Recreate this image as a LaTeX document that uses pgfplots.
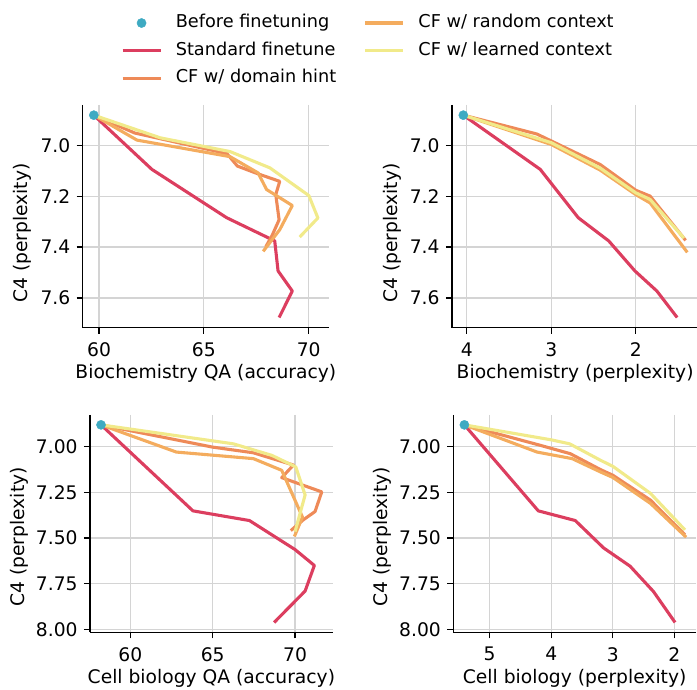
\documentclass[border=0pt]{standalone}
\usepackage{fontspec}
\setmainfont{DejaVu Sans}
\usepackage{pgfplots}
\pgfplotsset{compat=1.18}
\definecolor{cred}{RGB}{220,62,95}
\definecolor{corange}{RGB}{238,138,88}
\definecolor{clight}{RGB}{244,172,94}
\definecolor{cyellow}{RGB}{241,234,138}
\definecolor{cteal}{RGB}{62,170,194}
\definecolor{gridgray}{RGB}{212,212,212}
\pgfplotsset{
  panel/.style={
    scale only axis, anchor=south west,
    axis x line*=bottom, axis y line*=left,
    y dir=reverse,
    tick align=outside, major tick length=6pt,
    xmajorgrids, ymajorgrids,
    grid style={line width=1.2pt, gridgray},
    axis line style={line width=1.2pt, black, -},
    every tick/.style={line width=1.2pt, black},
    /pgf/number format/assume math mode=true,
    xticklabel style={yshift=-2.5pt},
    xlabel style={anchor=center},
    ylabel style={anchor=center},
  },
  ln/.style={line width=3.1pt, line join=round, no marks},
  dot/.style={only marks, mark=*, mark size=4.6pt, draw=cteal, fill=cteal, mark options={draw=cteal, fill=cteal}},
  lineleg/.style={legend image code/.code={\draw[##1] (0pt,0pt) -- (38pt,0pt);}},
  dotleg/.style={legend image code/.code={\draw[##1] plot coordinates {(19pt,0pt)};}},
}
\begin{document}
\fontsize{18.7pt}{22pt}\selectfont
\begin{tikzpicture}
% ---------------- Panel 1 ----------------
\begin{axis}[panel, at={(82.7pt,362.3pt)}, width=246.3pt, height=222.7pt,
  xmin=59.22, xmax=70.97, ymin=6.842, ymax=7.717,
  xtick={60,65,70}, ytick={7.0,7.2,7.4,7.6},
  yticklabel style={/pgf/number format/.cd, fixed, fixed zerofill, precision=1},
  xlabel={Biochemistry QA (accuracy)}, ylabel={C4 (perplexity)},
  xlabel style={at={(axis description cs:0.5,-0.2034)}},
  ylabel style={at={(axis description cs:-0.2436,0.425)}},
  legend columns=2,
  lineleg,
  legend style={at={(axis description cs:0.1555,1.4077)}, anchor=north west,
    draw=none, fill=none, inner sep=0pt, outer sep=0pt,
    font=\fontsize{17.7pt}{21pt}\selectfont, row sep=9.9pt, column sep=0pt,
    nodes={inner sep=0pt, text height=13.45pt, text depth=4.2pt, anchor=west},
    /tikz/every odd column/.append style={column sep=13.7pt},
    /tikz/every even column/.append style={column sep=27.4pt}},
]
\addlegendimage{dot, dotleg}
\addlegendentry{Before finetuning}
\addlegendimage{ln, clight}
\addlegendentry{CF w/ random context}
\addlegendimage{ln, cred}
\addlegendentry{Standard finetune}
\addlegendimage{ln, cyellow}
\addlegendentry{CF w/ learned context}
\addlegendimage{ln, corange}
\addlegendentry{CF w/ domain hint}
\addplot[ln, cred, forget plot] coordinates {(59.75,6.882)(62.52,7.095)(66.09,7.285)(68.38,7.376)(68.54,7.494)(69.22,7.573)(68.59,7.677)};
\addplot[ln, corange, forget plot] coordinates {(59.75,6.882)(61.7,6.952)(66.1,7.033)(66.6,7.082)(67.6,7.113)(68.62,7.142)(68.43,7.194)(68.59,7.293)(68.27,7.352)(67.95,7.40)};
\addplot[ln, clight, forget plot] coordinates {(59.75,6.882)(61.81,6.98)(66.25,7.045)(67.59,7.109)(67.99,7.174)(69.22,7.237)(68.62,7.332)(67.83,7.417)};
\addplot[ln, cyellow, forget plot] coordinates {(59.75,6.882)(62.92,6.971)(66.25,7.025)(68.15,7.089)(70.01,7.198)(70.44,7.286)(69.57,7.361)};
\addplot[dot, forget plot] coordinates {(59.75,6.882)};
\end{axis}
% ---------------- Panel 2 ----------------
\begin{axis}[panel, at={(452pt,362.3pt)}, width=246.3pt, height=222.7pt,
  x dir=reverse,
  xmin=1.26, xmax=4.174, ymin=6.842, ymax=7.717,
  xtick={2,3,4}, ytick={7.0,7.2,7.4,7.6},
  yticklabel style={/pgf/number format/.cd, fixed, fixed zerofill, precision=1},
  xlabel={Biochemistry (perplexity)}, ylabel={C4 (perplexity)},
  xlabel style={at={(axis description cs:0.5,-0.2034)}},
  ylabel style={at={(axis description cs:-0.2436,0.425)}},
]
\addplot[ln, cred] coordinates {(4.04,6.882)(3.13,7.095)(2.68,7.285)(2.32,7.376)(2.01,7.494)(1.75,7.573)(1.51,7.677)};
\addplot[ln, corange] coordinates {(4.04,6.882)(3.17,6.956)(2.42,7.076)(2.0,7.177)(1.83,7.2)(1.41,7.374)};
\addplot[ln, clight] coordinates {(4.04,6.882)(3.0,6.997)(2.42,7.098)(2.0,7.194)(1.83,7.227)(1.39,7.421)};
\addplot[ln, cyellow] coordinates {(4.04,6.882)(3.0,6.99)(2.42,7.09)(2.0,7.187)(1.83,7.213)(1.43,7.365)};
\addplot[dot] coordinates {(4.04,6.882)};
\end{axis}
% ---------------- Panel 3 ----------------
\begin{axis}[panel, at={(90pt,57.7pt)}, width=242.8pt, height=217.3pt,
  xmin=57.55, xmax=72.29, ymin=6.826, ymax=8.016,
  xtick={60,65,70}, ytick={7.00,7.25,7.50,7.75,8.00},
  yticklabel style={/pgf/number format/.cd, fixed, fixed zerofill, precision=2},
  xlabel={Cell biology QA (accuracy)}, ylabel={C4 (perplexity)},
  xlabel style={at={(axis description cs:0.5,-0.2117)}},
  ylabel style={at={(axis description cs:-0.292,0.4386)}},
]
\addplot[ln, cred] coordinates {(58.22,6.88)(63.80,7.351)(67.23,7.404)(70.0,7.563)(71.17,7.65)(70.61,7.79)(68.73,7.962)};
\addplot[ln, corange] coordinates {(58.22,6.88)(65,7.002)(67.47,7.033)(69.9,7.10)(69.19,7.169)(71.62,7.247)(71.21,7.355)(70.5,7.40)(69.74,7.459)};
\addplot[ln, clight] coordinates {(58.22,6.88)(62.79,7.029)(67.47,7.065)(69.19,7.129)(70.45,7.385)(69.96,7.491)};
\addplot[ln, cyellow] coordinates {(58.22,6.88)(66.26,6.984)(68.59,7.047)(70.04,7.11)(70.61,7.264)(70.0,7.464)};
\addplot[dot] coordinates {(58.22,6.88)};
\end{axis}
% ---------------- Panel 4 ----------------
\begin{axis}[panel, at={(453.3pt,57.7pt)}, width=242.7pt, height=217.3pt,
  x dir=reverse,
  xmin=1.65, xmax=5.59, ymin=6.826, ymax=8.016,
  xtick={2,3,4,5}, ytick={7.00,7.25,7.50,7.75,8.00},
  yticklabel style={/pgf/number format/.cd, fixed, fixed zerofill, precision=2},
  xlabel={Cell biology (perplexity)}, ylabel={C4 (perplexity)},
  xlabel style={at={(axis description cs:0.5,-0.2117)}},
  ylabel style={at={(axis description cs:-0.294,0.4386)}},
]
\addplot[ln, cred] coordinates {(5.41,6.88)(4.21,7.351)(3.61,7.404)(3.15,7.554)(2.72,7.654)(2.34,7.793)(1.99,7.962)};
\addplot[ln, corange] coordinates {(5.41,6.88)(4.2,6.99)(3.69,7.038)(3.2,7.125)(3.0,7.156)(2.39,7.292)(1.83,7.482)};
\addplot[ln, clight] coordinates {(5.41,6.88)(4.23,7.029)(3.66,7.065)(3.2,7.138)(3.0,7.168)(2.39,7.31)(1.81,7.495)};
\addplot[ln, cyellow] coordinates {(5.41,6.88)(4.0,6.962)(3.7,6.984)(3.2,7.074)(3.0,7.107)(2.39,7.255)(1.83,7.455)};
\addplot[dot] coordinates {(5.41,6.88)};
\end{axis}
\pgfresetboundingbox
\useasboundingbox (0pt,0pt) rectangle (697pt,690pt);
\end{tikzpicture}
\end{document}
